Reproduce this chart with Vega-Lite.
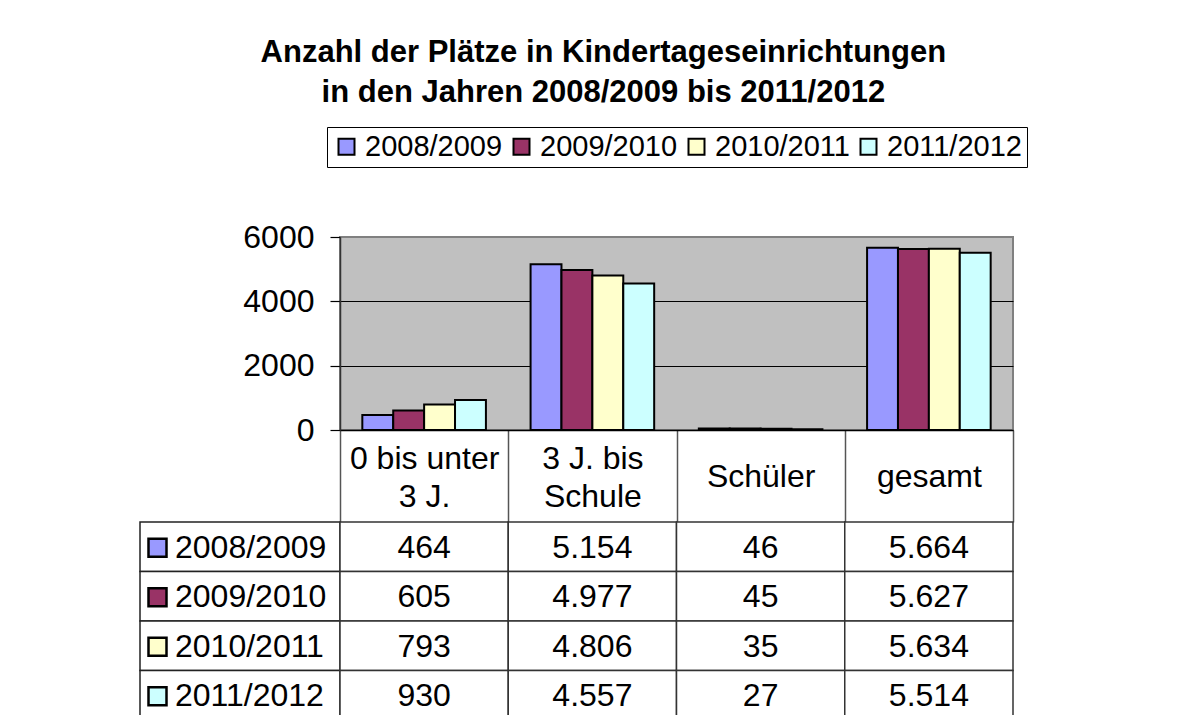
{
  "$schema": "https://vega.github.io/schema/vega-lite/v6.json",
  "autosize": {"type": "pad"},
  "padding": {"left": 139, "top": 36, "right": 0, "bottom": 0},
  "background": "white",
  "bounds": "flush",
  "columns": 2,
  "spacing": {"row": 92, "column": 0},
  "title": {
    "text": ["Anzahl der Plätze in Kindertageseinrichtungen", "in den Jahren 2008/2009 bis 2011/2012"],
    "font": "Liberation Sans",
    "fontSize": 31,
    "fontWeight": "bold",
    "lineHeight": 40,
    "color": "black",
    "anchor": "middle",
    "dx": 20,
    "offset": 18
  },
  "datasets": {
    "places": [
      {"category": "0 bis unter 3 J.", "series": "2008/2009", "value": 464},
      {"category": "0 bis unter 3 J.", "series": "2009/2010", "value": 605},
      {"category": "0 bis unter 3 J.", "series": "2010/2011", "value": 793},
      {"category": "0 bis unter 3 J.", "series": "2011/2012", "value": 930},
      {"category": "3 J. bis Schule", "series": "2008/2009", "value": 5154},
      {"category": "3 J. bis Schule", "series": "2009/2010", "value": 4977},
      {"category": "3 J. bis Schule", "series": "2010/2011", "value": 4806},
      {"category": "3 J. bis Schule", "series": "2011/2012", "value": 4557},
      {"category": "Schüler", "series": "2008/2009", "value": 46},
      {"category": "Schüler", "series": "2009/2010", "value": 45},
      {"category": "Schüler", "series": "2010/2011", "value": 35},
      {"category": "Schüler", "series": "2011/2012", "value": 27},
      {"category": "gesamt", "series": "2008/2009", "value": 5664},
      {"category": "gesamt", "series": "2009/2010", "value": 5627},
      {"category": "gesamt", "series": "2010/2011", "value": 5634},
      {"category": "gesamt", "series": "2011/2012", "value": 5514}
    ],
    "serieslist": [
      {"series": "2008/2009"},
      {"series": "2009/2010"},
      {"series": "2010/2011"},
      {"series": "2011/2012"}
    ]
  },
  "resolve": {
    "scale": {"x": "independent", "y": "independent", "color": "shared"},
    "legend": {"color": "shared"}
  },
  "concat": [
    {
      "width": 200,
      "height": 193,
      "data": {"values": [{}]},
      "mark": {"type": "text"},
      "encoding": {}
    },
    {
      "width": 673,
      "height": 193,
      "view": {"stroke": "#808080", "strokeWidth": 2, "fill": "#C0C0C0"},
      "data": {"name": "places"},
      "mark": {"type": "bar", "stroke": "black", "strokeWidth": 2},
      "encoding": {
        "x": {
          "field": "category",
          "type": "nominal",
          "sort": ["0 bis unter 3 J.", "3 J. bis Schule", "Schüler", "gesamt"],
          "scale": {"paddingInner": 0, "paddingOuter": 0},
          "axis": {
            "title": null,
            "labelAngle": 0,
            "labelExpr": "datum.value == '0 bis unter 3 J.' ? ['0 bis unter', '3 J.'] : datum.value == '3 J. bis Schule' ? ['3 J. bis', 'Schule'] : datum.value",
            "labelFontSize": 32,
            "labelLineHeight": 38,
            "labelBaseline": {"condition": {"test": "datum.value == 'Schüler' || datum.value == 'gesamt'", "value": "line-top"}, "value": "middle"},
            "labelColor": "black",
            "labelPadding": -64,
            "labelOverlap": false,
            "labelBound": false,
            "labelLimit": 200,
            "tickBand": "extent",
            "tickSize": 92,
            "tickColor": "#555",
            "tickWidth": 1.5,
            "domainColor": "black",
            "domainWidth": 1.5
          }
        },
        "xOffset": {
          "field": "series",
          "type": "nominal",
          "sort": ["2008/2009", "2009/2010", "2010/2011", "2011/2012"],
          "scale": {"paddingInner": 0, "paddingOuter": 0.7225}
        },
        "y": {
          "field": "value",
          "type": "quantitative",
          "scale": {"domain": [0, 6000], "nice": false},
          "axis": {
            "title": null,
            "values": [0, 2000, 4000, 6000],
            "format": "d",
            "labelFontSize": 32,
            "labelColor": "black",
            "labelPadding": 16,
            "tickSize": 10,
            "tickColor": "black",
            "tickWidth": 1.2,
            "domainColor": "#333",
            "domainWidth": 1.5,
            "grid": true,
            "gridColor": {"condition": {"test": "datum.value == 6000", "value": "#808080"}, "value": "black"},
            "gridWidth": 1,
            "gridOpacity": 1
          }
        },
        "color": {
          "field": "series",
          "type": "nominal",
          "scale": {
            "domain": ["2008/2009", "2009/2010", "2010/2011", "2011/2012"],
            "range": ["#9999FF", "#993366", "#FFFFCC", "#CCFFFF"]
          },
          "legend": {
            "title": null,
            "orient": "none",
            "legendX": 187,
            "legendY": -110,
            "direction": "horizontal",
            "columns": 4,
            "symbolType": "square",
            "symbolSize": 256,
            "symbolStrokeColor": "black",
            "symbolStrokeWidth": 2,
            "symbolOpacity": 1,
            "labelFontSize": 29,
            "labelColor": "black",
            "labelOffset": 4,
            "labelLimit": 300,
            "columnPadding": 4,
            "padding": 5,
            "strokeColor": "black",
            "fillColor": "white"
          }
        }
      }
    },
    {
      "width": 200,
      "height": 198,
      "data": {"name": "serieslist"},
      "layer": [
        {
          "mark": {"type": "rect", "fill": "white", "stroke": "#222", "strokeWidth": 1.5},
          "encoding": {
            "y": {
              "field": "series",
              "type": "nominal",
              "sort": ["2008/2009", "2009/2010", "2010/2011", "2011/2012"],
              "scale": {"paddingInner": 0, "paddingOuter": 0},
              "axis": null
            }
          }
        },
        {
          "mark": {"type": "point", "shape": "square", "filled": true, "size": 324, "stroke": "black", "strokeWidth": 2.5, "opacity": 1, "xOffset": -82.5, "yOffset": 1},
          "encoding": {
            "y": {"field": "series", "type": "nominal", "sort": ["2008/2009", "2009/2010", "2010/2011", "2011/2012"], "axis": null},
            "fill": {
              "field": "series",
              "type": "nominal",
              "scale": {
                "domain": ["2008/2009", "2009/2010", "2010/2011", "2011/2012"],
                "range": ["#9999FF", "#993366", "#FFFFCC", "#CCFFFF"]
              },
              "legend": null
            }
          }
        },
        {
          "mark": {"type": "text", "align": "left", "baseline": "middle", "dx": -65, "dy": 1, "fontSize": 32, "color": "black"},
          "encoding": {
            "y": {"field": "series", "type": "nominal", "sort": ["2008/2009", "2009/2010", "2010/2011", "2011/2012"], "axis": null},
            "text": {"field": "series"}
          }
        }
      ]
    },
    {
      "width": 673,
      "height": 198,
      "data": {"name": "places"},
      "encoding": {
        "x": {
          "field": "category",
          "type": "nominal",
          "sort": ["0 bis unter 3 J.", "3 J. bis Schule", "Schüler", "gesamt"],
          "scale": {"paddingInner": 0, "paddingOuter": 0},
          "axis": null
        },
        "y": {
          "field": "series",
          "type": "nominal",
          "sort": ["2008/2009", "2009/2010", "2010/2011", "2011/2012"],
          "scale": {"paddingInner": 0, "paddingOuter": 0},
          "axis": null
        }
      },
      "layer": [
        {"mark": {"type": "rect", "fill": "white", "stroke": "#333", "strokeWidth": 1.5}},
        {
          "mark": {"type": "text", "align": "center", "baseline": "middle", "dy": 1, "fontSize": 32, "color": "black"},
          "encoding": {"text": {"field": "value", "type": "quantitative", "format": ",d"}}
        }
      ]
    }
  ],
  "config": {
    "font": "Liberation Sans",
    "view": {"stroke": null},
    "locale": {"number": {"decimal": ",", "thousands": ".", "grouping": [3], "currency": ["", " €"]}}
  }
}
